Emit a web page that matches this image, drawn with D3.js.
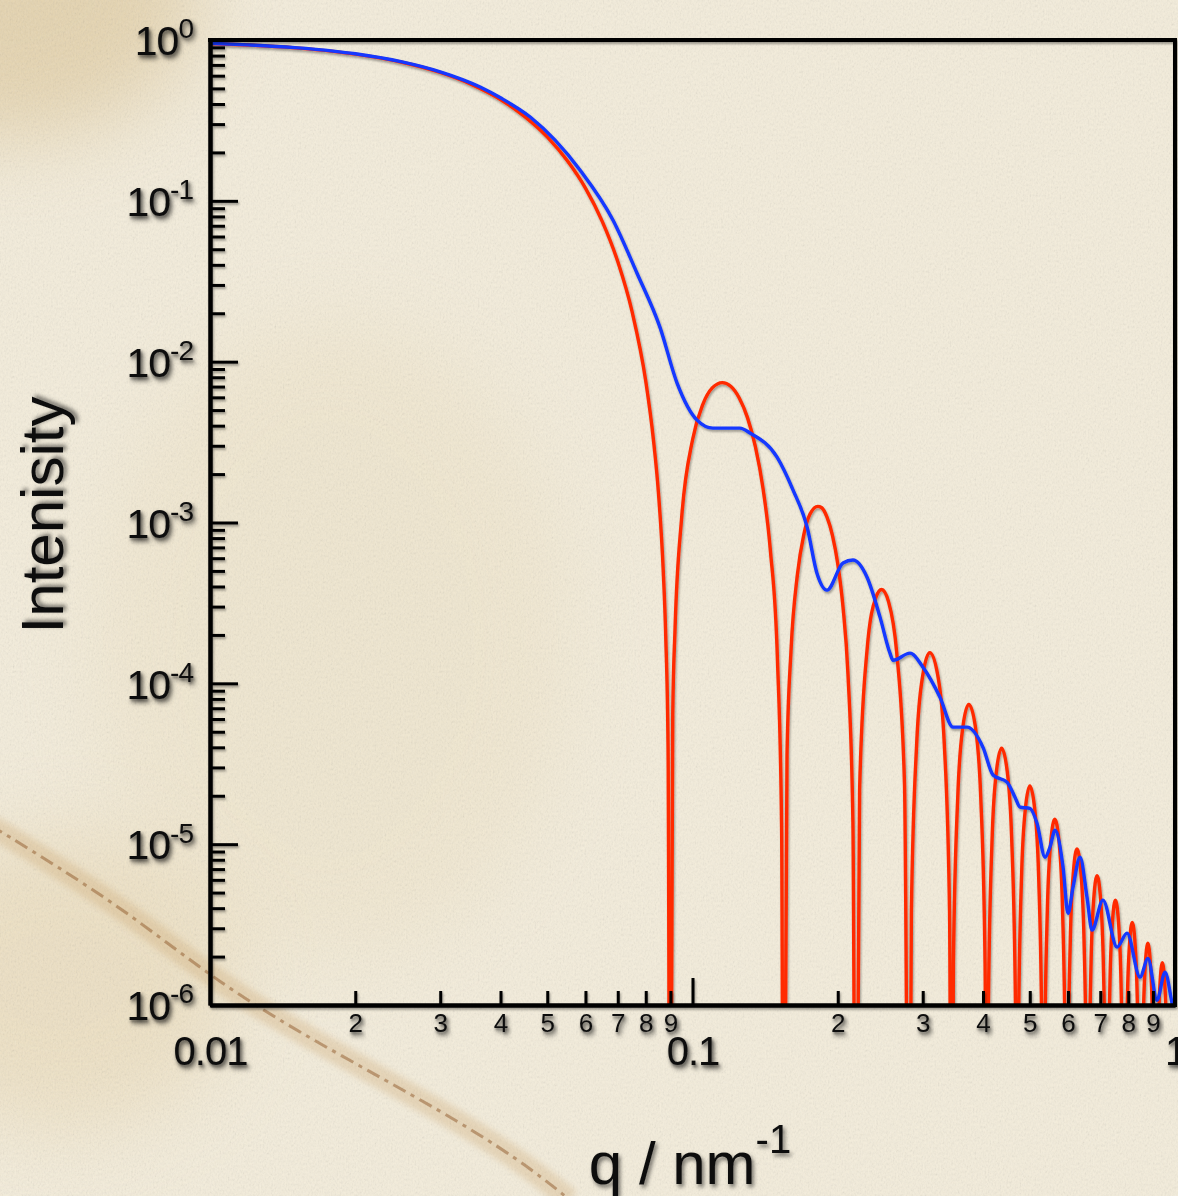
<!DOCTYPE html>
<html>
<head>
<meta charset="utf-8">
<script src="https://cdn.jsdelivr.net/npm/d3@7"></script>
<style>
  html, body { margin: 0; padding: 0; background: #f2ebd8; overflow: hidden; }
  svg { display: block; }
  text { font-family: "Liberation Sans", Arial, Helvetica, sans-serif; fill: #111; }
</style>
</head>
<body>
<script>
// sphere form factor, monodisperse (red)
var qRed = [0.010, 0.012, 0.015, 0.018, 0.020, 0.025, 0.030, 0.035, 0.040, 0.045,
  0.050, 0.055, 0.060, 0.065, 0.070, 0.075, 0.080, 0.083, 0.085, 0.087, 0.088, 0.089, 0.0899,
  0.091, 0.092, 0.095, 0.100, 0.105, 0.110, 0.1153, 0.120, 0.125, 0.130, 0.135, 0.140, 0.145, 0.150, 0.153, 0.1545,
  0.157, 0.160, 0.165, 0.170, 0.175, 0.1819, 0.185, 0.190, 0.195, 0.200, 0.205, 0.210, 0.215, 0.2181,
  0.222, 0.230, 0.240, 0.2465, 0.255, 0.265, 0.275, 0.2813,
  0.2842, 0.2915, 0.3002, 0.3103, 0.3222, 0.3325, 0.3410, 0.3444,
  0.3473, 0.3547, 0.3635, 0.3738, 0.3856, 0.3956, 0.4040, 0.4074,
  0.4104, 0.4178, 0.4267, 0.4371, 0.4488, 0.4587, 0.4671, 0.4704,
  0.4734, 0.4808, 0.4898, 0.5002, 0.5118, 0.5217, 0.5300, 0.5333,
  0.5363, 0.5438, 0.5529, 0.5634, 0.5749, 0.5847, 0.5929, 0.5962,
  0.5992, 0.6068, 0.6160, 0.6264, 0.6378, 0.6478, 0.6558, 0.6591,
  0.6621, 0.6697, 0.6788, 0.6894, 0.7008, 0.7106, 0.7187, 0.7220,
  0.7250, 0.7326, 0.7418, 0.7524, 0.7638, 0.7735, 0.7817, 0.7849,
  0.7880, 0.7956, 0.8048, 0.8154, 0.8267, 0.8364, 0.8445, 0.8477,
  0.8508, 0.8584, 0.8677, 0.8784, 0.8897, 0.8993, 0.9074, 0.9106,
  0.9137, 0.9214, 0.9306, 0.9414, 0.9526, 0.9622, 0.9702, 0.9734,
  0.9765, 0.9841, 1.000];
var iRed = [0.951, 0.930, 0.894, 0.850, 0.817, 0.727, 0.628, 0.526, 0.427, 0.333,
  0.250, 0.178, 0.120, 0.0745, 0.0419, 0.0203, 0.00758, 0.00326, 0.00153, 0.00049, 0.000198, 3.9e-5, 1e-8,
  6.4e-5, 0.000217, 0.00109, 0.00326, 0.00541, 0.00689, 0.00741, 0.00704, 0.00595, 0.00449, 0.00296, 0.00163, 0.000672, 0.00014, 1.26e-5, 1e-8,
  3.6e-5, 0.000159, 0.000477, 0.000835, 0.00112, 0.00126, 0.00124, 0.00108, 0.000833, 0.000554, 0.000302, 0.000114, 1.37e-5, 1e-8,
  2.2e-5, 0.000161, 0.000343, 0.000383, 0.00032, 0.000155, 2.4e-5, 1e-8,
  3.8e-6, 4.23e-5, 1.13e-4, 1.55e-4, 1.13e-4, 4.23e-5, 3.8e-6, 1e-8,
  1.8e-6, 2.0e-5, 5.4e-5, 7.4e-5, 5.4e-5, 2.0e-5, 1.8e-6, 1e-8,
  9.7e-7, 1.08e-5, 2.87e-5, 3.95e-5, 2.87e-5, 1.08e-5, 9.7e-7, 1e-8,
  5.6e-7, 6.3e-6, 1.67e-5, 2.3e-5, 1.67e-5, 6.3e-6, 5.6e-7, 1e-8,
  3.5e-7, 3.9e-6, 1.04e-5, 1.43e-5, 1.04e-5, 3.9e-6, 3.5e-7, 1e-8,
  2.3e-7, 2.55e-6, 6.8e-6, 9.35e-6, 6.8e-6, 2.55e-6, 2.3e-7, 1e-8,
  1.6e-7, 1.74e-6, 4.63e-6, 6.37e-6, 4.63e-6, 1.74e-6, 1.6e-7, 1e-8,
  1.1e-7, 1.23e-6, 3.26e-6, 4.49e-6, 3.26e-6, 1.23e-6, 1.1e-7, 1e-8,
  8e-8, 8.9e-7, 2.37e-6, 3.26e-6, 2.37e-6, 8.9e-7, 8e-8, 1e-8,
  6e-8, 6.6e-7, 1.76e-6, 2.42e-6, 1.76e-6, 6.6e-7, 6e-8, 1e-8,
  4e-8, 5.0e-7, 1.33e-6, 1.83e-6, 1.33e-6, 5.0e-7, 4e-8, 1e-8,
  3.3e-8, 3.8e-7, 1.1e-6];

// polydisperse (blue)
var qBlue = [0.010, 0.012, 0.015, 0.018, 0.020, 0.025, 0.030, 0.0363, 0.040, 0.0461,
  0.0585, 0.0684, 0.0767, 0.0856, 0.0929, 0.1022, 0.1103, 0.1254, 0.1316, 0.1497,
  0.1616, 0.1728, 0.1811, 0.1900, 0.2051, 0.2151, 0.2300, 0.2447, 0.2566, 0.2604,
  0.2824, 0.3004, 0.3258, 0.3467, 0.3707, 0.4000, 0.4196, 0.4486, 0.4660, 0.4773,
  0.5005, 0.5176, 0.5378, 0.5508, 0.5641, 0.5861, 0.6002, 0.6147, 0.6356, 0.6571,
  0.6730, 0.7090, 0.7584, 0.7954, 0.8463, 0.8790, 0.9177, 0.9535, 0.9858, 1.000];
var iBlue = [0.955, 0.932, 0.896, 0.853, 0.821, 0.731, 0.634, 0.510, 0.437, 0.332,
  0.155, 0.0760, 0.0356, 0.0164, 0.00736, 0.00433, 0.00386, 0.00386, 0.0036, 0.00255,
  0.00159, 0.000936, 0.000484, 0.00038, 0.00056, 0.000584, 0.000457, 0.000258, 0.000154, 0.000139,
  0.000154, 0.000126, 8.2e-5, 5.34e-5, 5.34e-5, 4.0e-5, 2.69e-5, 2.43e-5, 1.96e-5, 1.70e-5,
  1.67e-5, 1.35e-5, 8.3e-6, 9.6e-6, 1.22e-5, 7.2e-6, 3.72e-6, 5.4e-6, 8.3e-6, 4.68e-6,
  2.92e-6, 4.49e-6, 2.29e-6, 2.8e-6, 1.49e-6, 1.95e-6, 1.07e-6, 1.6e-6, 1.03e-6, 8.5e-7];

var xMajorTicks = [0.01, 0.1, 1];
var xMajorLabels = ["0.01", "0.1", "1"];
var minorMultipliers = [2, 3, 4, 5, 6, 7, 8, 9];
var minorLabels = ["2", "3", "4", "5", "6", "7", "8", "9"];
var yExponents = [0, -1, -2, -3, -4, -5, -6];

var width = 1178, height = 1196;
var plotLeft = 210, plotRight = 1175, plotTop = 40, plotBottom = 1005;

var svg = d3.select("body").append("svg")
  .attr("width", width)
  .attr("height", height);

var defs = svg.append("defs");

var paper = defs.append("filter").attr("id", "paper")
  .attr("x", 0).attr("y", 0).attr("width", "100%").attr("height", "100%");
paper.append("feTurbulence")
  .attr("type", "fractalNoise")
  .attr("baseFrequency", "0.6 0.38")
  .attr("numOctaves", 3)
  .attr("seed", 7);
paper.append("feColorMatrix").attr("type", "saturate").attr("values", 0);

var shadow = defs.append("filter").attr("id", "shadow")
  .attr("x", "-20%").attr("y", "-20%").attr("width", "140%").attr("height", "140%");
shadow.append("feDropShadow")
  .attr("dx", 2).attr("dy", 3).attr("stdDeviation", 2)
  .attr("flood-color", "#000").attr("flood-opacity", 0.55);

var lineShadow = defs.append("filter").attr("id", "lineShadow")
  .attr("x", "-5%").attr("y", "-5%").attr("width", "110%").attr("height", "110%");
lineShadow.append("feDropShadow")
  .attr("dx", 1).attr("dy", 2).attr("stdDeviation", 1.2)
  .attr("flood-color", "#000").attr("flood-opacity", 0.35);

var stainBlur = defs.append("filter").attr("id", "stainBlur");
stainBlur.append("feGaussianBlur").attr("stdDeviation", 3);
var bigBlur = defs.append("filter").attr("id", "bigBlur")
  .attr("x", "-50%").attr("y", "-50%").attr("width", "200%").attr("height", "200%");
bigBlur.append("feGaussianBlur").attr("stdDeviation", 40);

// background paper
svg.append("rect").attr("width", width).attr("height", height).attr("fill", "#f4eddb");
svg.append("ellipse").attr("cx", 0).attr("cy", 0).attr("rx", 200).attr("ry", 140)
  .attr("fill", "#dcc494").attr("opacity", 0.6).attr("filter", "url(#bigBlur)");
svg.append("ellipse").attr("cx", 330).attr("cy", 640).attr("rx", 240).attr("ry", 320)
  .attr("fill", "#eadbb8").attr("opacity", 0.3).attr("filter", "url(#bigBlur)");
svg.append("ellipse").attr("cx", 60).attr("cy", 980).attr("rx", 180).attr("ry", 150)
  .attr("fill", "#e4cfa2").attr("opacity", 0.4).attr("filter", "url(#bigBlur)");
svg.append("rect").attr("width", width).attr("height", height)
  .attr("filter", "url(#paper)").attr("opacity", 0.2);

var stain = d3.line().curve(d3.curveBasis);
var stainPts = [[-10, 825], [120, 905], [220, 985], [330, 1050], [440, 1110], [520, 1160], [570, 1200]];
svg.append("path").attr("d", stain(stainPts))
  .attr("fill", "none").attr("stroke", "#c9a26a").attr("stroke-width", 22)
  .attr("opacity", 0.3).attr("filter", "url(#stainBlur)");
svg.append("path").attr("d", stain(stainPts))
  .attr("fill", "none").attr("stroke", "#8f5a2c").attr("stroke-width", 3)
  .attr("stroke-dasharray", "14 6 4 6").attr("opacity", 0.5);

// scales
var x = d3.scaleLog().domain([0.01, 1]).range([plotLeft, plotRight]);
var y = d3.scaleLog().domain([1e-6, 1]).range([plotBottom, plotTop]);

var clip = defs.append("clipPath").attr("id", "plotClip");
clip.append("rect").attr("x", plotLeft).attr("y", plotTop)
  .attr("width", plotRight - plotLeft).attr("height", plotBottom - plotTop);

var line = d3.line()
  .x(function(d) { return x(d[0]); })
  .y(function(d) { return y(d[1]); })
  .curve(d3.curveMonotoneX);

var red = qRed.map(function(q, i) { return [q, iRed[i]]; });
var blue = qBlue.map(function(q, i) { return [q, iBlue[i]]; });

var curves = svg.append("g").attr("clip-path", "url(#plotClip)");
var curveGroup = curves.append("g").attr("filter", "url(#lineShadow)");
curveGroup.append("path").datum(red)
  .attr("d", line)
  .attr("fill", "none")
  .attr("stroke", "#ff2a00")
  .attr("stroke-width", 3.4)
  .attr("stroke-linejoin", "round");
curveGroup.append("path").datum(blue)
  .attr("d", line)
  .attr("fill", "none")
  .attr("stroke", "#1238ff")
  .attr("stroke-width", 3.4)
  .attr("stroke-linejoin", "round");

// axes
var axes = svg.append("g").attr("filter", "url(#lineShadow)");

var yMinor = [];
yExponents.slice(1).forEach(function(e) {
  minorMultipliers.forEach(function(m) { yMinor.push(m * Math.pow(10, e)); });
});
var xMinor = [];
xMajorTicks.slice(0, 2).forEach(function(t) {
  minorMultipliers.forEach(function(m) { xMinor.push(m * t); });
});

var yMinorAxis = d3.axisLeft(y).tickValues(yMinor).tickSizeInner(-15).tickSizeOuter(0).tickFormat("");
var yMajorAxis = d3.axisLeft(y)
  .tickValues(yExponents.map(function(e) { return Math.pow(10, e); }))
  .tickSizeInner(-28).tickSizeOuter(0).tickPadding(17).tickFormat("");
var xMinorAxis = d3.axisBottom(x).tickValues(xMinor).tickSizeInner(-14).tickSizeOuter(0)
  .tickPadding(9).tickFormat(function(d, i) { return minorLabels[i % 8]; });
var xMajorAxis = d3.axisBottom(x).tickValues(xMajorTicks).tickSizeInner(-27).tickSizeOuter(0)
  .tickPadding(32).tickFormat(function(d, i) { return xMajorLabels[i]; });

function styleAxis(g) {
  g.select(".domain").attr("stroke", "#000").attr("stroke-width", 4);
  g.selectAll(".tick line").attr("stroke", "#000").attr("stroke-width", 3);
}

var gy1 = axes.append("g").attr("transform", "translate(" + plotLeft + ",0)").call(yMinorAxis);
var gy2 = axes.append("g").attr("transform", "translate(" + plotLeft + ",0)").call(yMajorAxis);
var gx1 = axes.append("g").attr("transform", "translate(0," + plotBottom + ")").call(xMinorAxis);
var gx2 = axes.append("g").attr("transform", "translate(0," + plotBottom + ")").call(xMajorAxis);
[gy1, gy2, gx1, gx2].forEach(styleAxis);

// frame top and right
axes.append("path")
  .attr("d", "M" + (plotLeft - 2) + "," + plotTop + "H" + plotRight + "V" + (plotBottom + 2))
  .attr("fill", "none").attr("stroke", "#000").attr("stroke-width", 4);

// tick labels
gy2.selectAll(".tick text")
  .attr("font-size", 41)
  .attr("letter-spacing", -1)
  .attr("filter", "url(#shadow)")
  .attr("dy", "0.36em")
  .each(function(d, i) {
    var t = d3.select(this);
    t.append("tspan").text("10");
    t.append("tspan").attr("font-size", 28).attr("dy", "-0.6em").text(String(yExponents[i]));
  });

gx1.selectAll(".tick text")
  .attr("font-size", 26)
  .attr("fill", "#111")
  .attr("filter", "url(#shadow)");
gx2.selectAll(".tick text")
  .attr("font-size", 40)
  .attr("letter-spacing", -1)
  .attr("fill", "#111")
  .attr("filter", "url(#shadow)");

// axis titles
svg.append("text")
  .attr("transform", "translate(63,515) rotate(-90)")
  .attr("text-anchor", "middle")
  .attr("font-size", 60)
  .attr("filter", "url(#shadow)")
  .text("Intenisity");

var xt = svg.append("text")
  .attr("x", 690).attr("y", 1184)
  .attr("text-anchor", "middle")
  .attr("font-size", 60)
  .attr("filter", "url(#shadow)");
xt.append("tspan").text("q / nm");
xt.append("tspan").attr("font-size", 40).attr("dy", -31).text("-1");
</script>
</body>
</html>
